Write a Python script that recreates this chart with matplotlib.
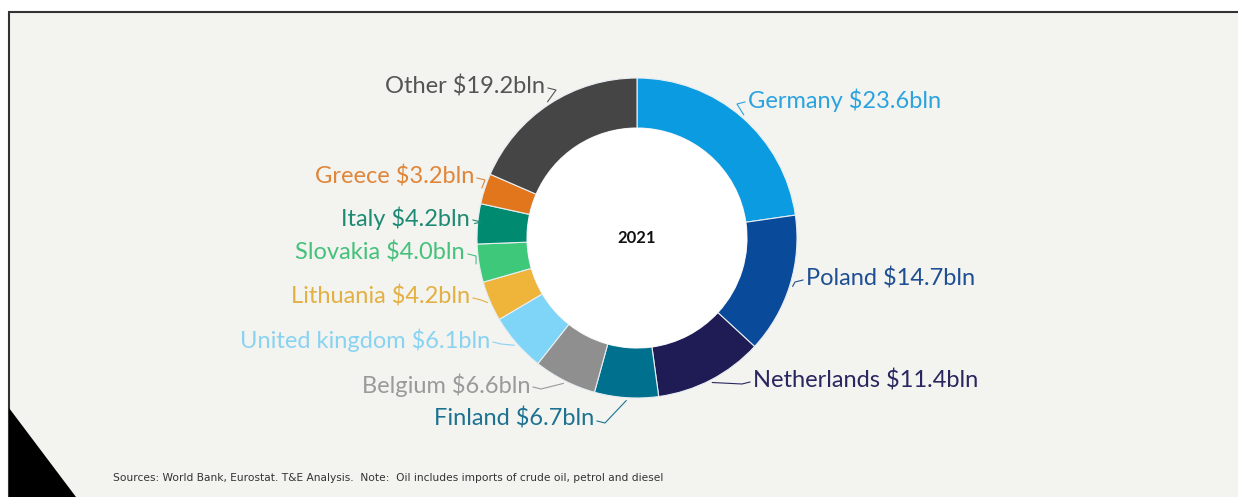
import numpy as np
import matplotlib.pyplot as plt
from matplotlib.patches import Rectangle, Polygon, Circle
from matplotlib import font_manager

# Oil import values by country, 2021 (billion USD), clockwise from the top
countries = ["Germany", "Poland", "Netherlands", "Finland", "Belgium",
             "United kingdom", "Lithuania", "Slovakia", "Italy", "Greece", "Other"]
values = [23.6, 14.7, 11.4, 6.7, 6.6, 6.1, 4.2, 4.0, 4.2, 3.2, 19.2]

slice_colors = ["#0a9be0", "#0a4a9a", "#1e1b55", "#00708f", "#8f8f8f",
                "#7fd5f7", "#efb43a", "#3ec97a", "#008a70", "#e2761c", "#454545"]
text_colors = ["#2aa3df", "#1f4f93", "#2a2760", "#1d7292", "#9a9a9a",
               "#89d3f2", "#e3b044", "#46c17c", "#1f8a74", "#e0863a", "#555555"]

# label anchors in pixels (x, y from top) and which side the text sits on
label_pos = [(748, 100), (806, 278), (753, 380), (594, 419), (530, 385),
             (490, 340), (470, 296), (465, 252), (470, 218), (474, 176), (545, 86)]
label_side = ["left", "left", "left", "right", "right",
              "right", "right", "right", "right", "right", "right"]

W, H = 1238, 497
cx, cy, R, ring = 637, 238, 160, 50
bg = "#f3f3ef"

names = [f.name for f in font_manager.fontManager.ttflist]
label_font = "Lato" if "Lato" in names else "DejaVu Sans"
note_font = "Liberation Sans Narrow" if "Liberation Sans Narrow" in names else "DejaVu Sans"

fig = plt.figure(figsize=(W / 100, H / 100), dpi=100, facecolor="white")
ax = fig.add_axes([0, 0, 1, 1])

# slide panel with border and corner triangle
ax.add_patch(Rectangle((9, -10), W + 20, H - 12 + 10, facecolor=bg,
                       edgecolor="#333333", linewidth=1.5, zorder=0))
ax.add_patch(Polygon([(9, H - 408), (9, 0), (76, 0)], closed=True,
                     facecolor="black", edgecolor="none", zorder=1))

wedges, _ = ax.pie(values, colors=slice_colors, startangle=90, counterclock=False,
                   radius=R, center=(cx, H - cy),
                   wedgeprops=dict(width=ring, edgecolor="#e8eef2", linewidth=0.8))
for w in wedges:
    w.set_zorder(2)
ax.add_patch(Circle((cx, H - cy), R - ring, facecolor="white", edgecolor="none", zorder=2))

total = sum(values)
cum = np.cumsum([0] + values)
for i, name in enumerate(countries):
    mid = 90 - (cum[i] + cum[i + 1]) / 2 / total * 360
    ex = cx + (R + 3) * np.cos(np.radians(mid))
    ey = (H - cy) + (R + 3) * np.sin(np.radians(mid))
    lx, ly = label_pos[i]
    ly = H - ly
    ax.text(lx, ly, f"{name} ${values[i]}bln", ha=label_side[i], va="center",
            fontsize=17, color=text_colors[i], family=label_font, zorder=3)
    sx = lx + 3 if label_side[i] == "right" else lx - 3
    step = 8 if label_side[i] == "right" else -8
    ax.plot([sx, sx + step, ex], [ly - 2, ly - 4, ey], color=text_colors[i],
            linewidth=0.8, zorder=3)

ax.text(cx, H - cy, "2021", ha="center", va="center", fontsize=12,
        fontweight="bold", color="#111111", family=label_font, zorder=3)

ax.text(113, H - 478, "Sources: World Bank, Eurostat. T&E Analysis.  Note:  Oil includes imports of crude oil, petrol and diesel",
        ha="left", va="center", fontsize=7.7, color="#333333", family=note_font, zorder=3)

ax.set_xlim(0, W)
ax.set_ylim(0, H)
ax.set_aspect("auto")
ax.axis("off")
fig.savefig("out.png", dpi=100, facecolor="white")
